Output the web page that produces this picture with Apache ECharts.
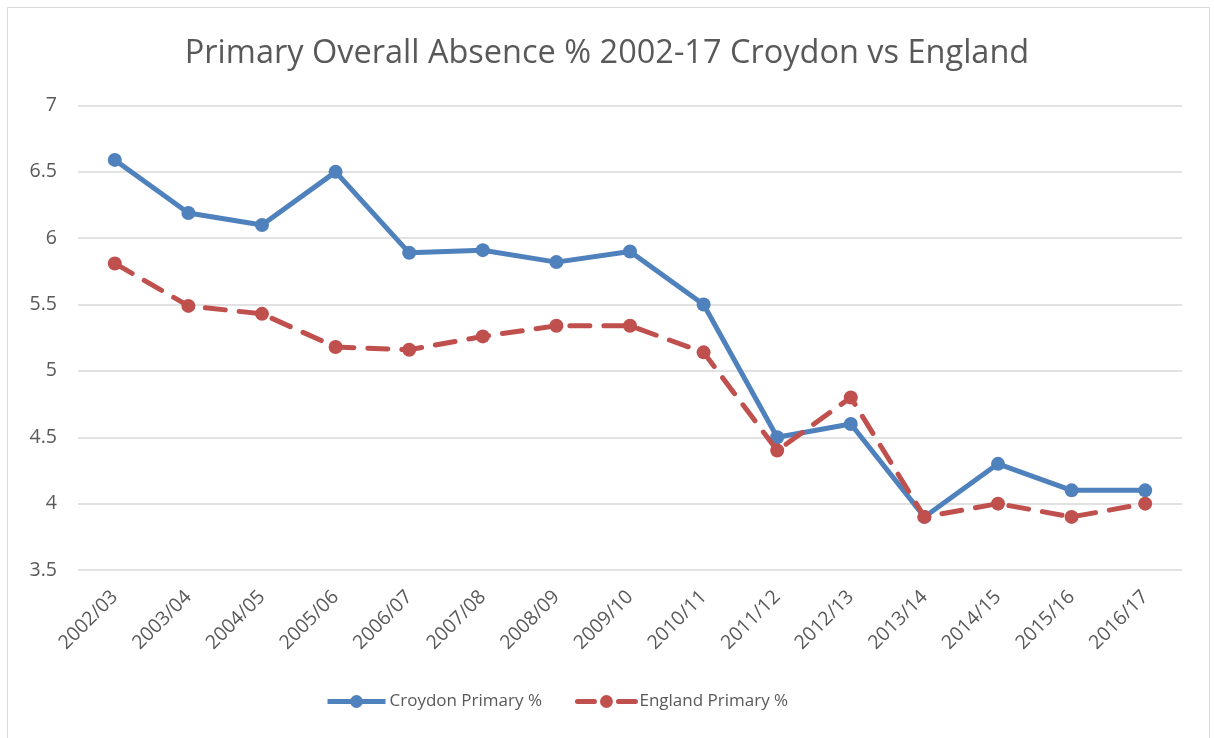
<!DOCTYPE html>
<html>
<head>
<meta charset="utf-8">
<script src="https://cdn.jsdelivr.net/npm/echarts@6/dist/echarts.min.js"></script>
<style>
  html, body { margin: 0; padding: 0; background: #ffffff; }
  #chart { width: 1214px; height: 738px; }
</style>
</head>
<body>
<div id="chart"></div>
<script>
// School years covered
const years = ['2002/03', '2003/04', '2004/05', '2005/06', '2006/07', '2007/08', '2008/09',
  '2009/10', '2010/11', '2011/12', '2012/13', '2013/14', '2014/15', '2015/16', '2016/17'];

// Overall absence rates (%)
const croydon = [6.59, 6.19, 6.1, 6.5, 5.89, 5.91, 5.82, 5.9, 5.5, 4.5, 4.6, 3.9, 4.3, 4.1, 4.1];
const england = [5.81, 5.49, 5.43, 5.18, 5.16, 5.26, 5.34, 5.34, 5.14, 4.4, 4.8, 3.9, 4.0, 3.9, 4.0];

// Value axis range
const yMin = 3.5, yMax = 7, yStep = 0.5;

const textColor = '#595959';
const font = '"Open Sans", "Noto Sans", sans-serif';

const chart = echarts.init(document.getElementById('chart'), null, { renderer: 'canvas' });

chart.setOption({
  animation: false,
  backgroundColor: '#ffffff',
  textStyle: { fontFamily: font, color: textColor },
  graphic: [{
    type: 'rect',
    shape: { x: 7.5, y: 7.5, width: 1202, height: 740 },
    style: { fill: 'none', stroke: '#d9d9d9', lineWidth: 1 },
    silent: true,
    z: -1
  }],
  title: {
    text: 'Primary Overall Absence % 2002-17 Croydon vs England',
    left: 'center',
    top: 32,
    textStyle: { fontFamily: font, fontSize: 32.5, fontWeight: 'normal', color: textColor }
  },
  legend: {
    top: 693,
    left: 325,
    padding: 0,
    itemWidth: 58,
    itemHeight: 16,
    itemGap: 33,
    lineStyle: { width: 5, type: 'inherit' },
    textStyle: { fontFamily: font, fontSize: 17, color: textColor, padding: [0, 0, 0, -1] },
    data: [
      { name: 'Croydon Primary %' },
      { name: 'England Primary %', lineStyle: { width: 5, type: [17, 24] } }
    ]
  },
  grid: { left: 78, right: 32, top: 105.5, bottom: 168, containLabel: false },
  xAxis: {
    type: 'category',
    data: years,
    boundaryGap: true,
    axisLine: { show: false },
    axisTick: { show: false },
    axisLabel: {
      rotate: 45,
      margin: 24,
      interval: 0,
      fontFamily: font,
      fontSize: 19.5,
      color: textColor
    }
  },
  yAxis: {
    type: 'value',
    min: yMin,
    max: yMax,
    interval: yStep,
    axisLine: { show: false },
    axisTick: { show: false },
    axisLabel: {
      margin: 21,
      fontFamily: font,
      fontSize: 19.5,
      color: textColor
    },
    splitLine: { lineStyle: { color: '#d9d9d9', width: 1.5 } }
  },
  series: [
    {
      name: 'Croydon Primary %',
      type: 'line',
      data: croydon,
      symbol: 'circle',
      symbolSize: 14,
      color: '#4f81bd',
      lineStyle: { width: 5, color: '#4f81bd' },
      itemStyle: { color: '#4f81bd' },
      z: 2
    },
    {
      name: 'England Primary %',
      type: 'line',
      data: england,
      symbol: 'circle',
      symbolSize: 14,
      color: '#c0504d',
      lineStyle: { width: 5, color: '#c0504d', type: [20, 14], cap: 'round' },
      itemStyle: { color: '#c0504d' },
      z: 3
    }
  ]
});
</script>
</body>
</html>
